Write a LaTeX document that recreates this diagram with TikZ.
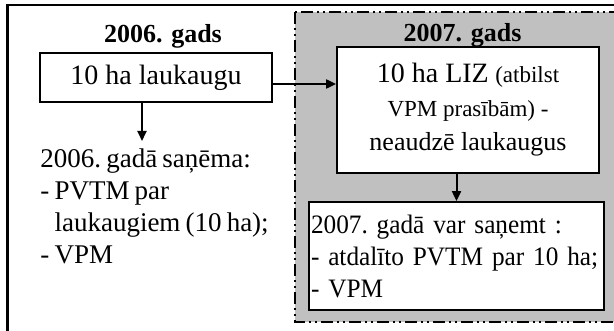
\documentclass[tikz,border=0pt]{standalone}
\usepackage{fontspec}
\setmainfont{Liberation Serif}
\newfontfamily\boxrm{Liberation Serif}[FakeStretch=0.95]
\usetikzlibrary{positioning,arrows.meta}
\definecolor{zonegray}{RGB}{192,192,192}
\newcommand{\fsbody}{\fontsize{13.5}{16}\selectfont\frenchspacing\spaceskip=0.19em plus 0.05em}
\newcommand{\fsbox}{\boxrm\fontsize{13.3}{16}\selectfont\frenchspacing\spaceskip=0.17em plus 0.05em}
\newcommand{\fsbig}{\fontsize{14}{17}\selectfont}
\newcommand{\fssmall}{\fontsize{11.5}{17}\selectfont}
\tikzset{
  yrhead/.style={font=\fontsize{13}{16}\selectfont\bfseries, inner sep=0pt, anchor=base},
  yrbox/.style={draw=black, line width=0.9pt, fill=white, align=center, font=\fsbody},
  yrtext/.style={align=left, inner sep=0pt, font=\fsbody},
  yrarr/.style={-{Triangle[width=4.5pt,length=5pt]}, line width=1pt},
  zone/.style={fill=zonegray, draw=black, line width=0.8pt,
               dash pattern=on 6pt off 2pt on 1pt off 2pt on 1pt off 2pt},
}

\begin{document}
\begin{tikzpicture}[x=0.5pt, y=-0.5pt]
  \useasboundingbox (0,0) rectangle (614,331);
  \clip (0,0) rectangle (614,331);

  % frame and the 2007 zone
  \draw[line width=1.2pt] (7.5,5) rectangle (680,400);
  \draw[zone] (295,12) rectangle (680,322);

  \node[yrhead] (h06) at (163,43) {2006. gads};
  \node[yrhead] (h07) at (462.5,42) {2007. gads};

  \node[yrbox, font=\fsbig, minimum width=116pt, minimum height=24.5pt] (laukaugi) at (156,77.5) {10 ha laukaugu};
  \node[yrbox, font=\fontsize{13}{17}\selectfont, minimum width=131pt, minimum height=63pt] (liz) at (468,110)
    {{\fsbig 10 ha LIZ} {\fssmall (atbilst}\\{\fssmall VPM prasībām) -}\\neaudzē laukaugus};
  \node[yrbox, font=\fsbox, align=left, text width=145.5pt, inner xsep=1pt, minimum height=54pt] (sanemt) at (456.5,256)
    {\mbox{2007. gadā var saņemt :}\\\mbox{- atdalīto PVTM par 10 ha;}\\- VPM};
  \node[yrtext, anchor=north west, inner ysep=3.5pt] (sanema) at (40,141)
    {2006. gadā saņēma:\\- PVTM par\\\phantom{- }laukaugiem (10 ha);\\- VPM};

  \draw[yrarr] ([xshift=-7pt]laukaugi.south) -- ([xshift=-7pt]laukaugi.south |- sanema.north);
  \draw[yrarr] ([yshift=-3.25pt]laukaugi.east) -- ([yshift=-3.25pt]laukaugi.east -| liz.west);
  \draw[yrarr] (sanemt.north |- liz.south) -- (sanemt.north);
\end{tikzpicture}
\end{document}
